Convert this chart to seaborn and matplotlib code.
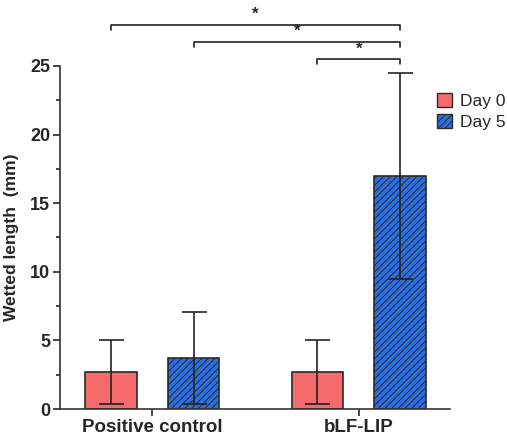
import numpy as np
import pandas as pd
import matplotlib
matplotlib.use('Agg')
import matplotlib.pyplot as plt
import seaborn as sns
from matplotlib.ticker import MultipleLocator
from matplotlib.patches import Patch

# data
groups = ['Positive control', 'bLF-LIP']
days = ['Day 0', 'Day 5']
day0_mean = [2.7, 2.7]
day5_mean = [3.7, 17.0]
day0_err_low = [2.3, 2.3]
day0_err_high = [2.3, 2.3]
day5_err_low = [3.3, 7.5]
day5_err_high = [3.4, 7.5]

# significance brackets: (group, day) -> (group, day), bracket height
comparisons = [
    (('Positive control', 'Day 0'), ('bLF-LIP', 'Day 5'), 28.0),
    (('Positive control', 'Day 5'), ('bLF-LIP', 'Day 5'), 26.75),
    (('bLF-LIP', 'Day 0'), ('bLF-LIP', 'Day 5'), 25.5),
]

df = pd.DataFrame({
    'group': groups * 2,
    'day': [days[0]] * 2 + [days[1]] * 2,
    'value': day0_mean + day5_mean,
})

palette = {'Day 0': '#F56B6B', 'Day 5': '#2C6FE2'}

sns.set_style('ticks')
plt.rcParams['font.family'] = ['Liberation Sans', 'DejaVu Sans']
plt.rcParams['hatch.color'] = '#1A4BA6'
plt.rcParams['hatch.linewidth'] = 0.7

fig = plt.figure(figsize=(5.07, 4.36), dpi=100)
ax = fig.add_axes([60 / 507, 27 / 436, 390 / 507, 343 / 436])

sns.barplot(data=df, x='group', y='value', hue='day', order=groups, hue_order=days,
            palette=palette, saturation=1, errorbar=None, gap=0.38, edgecolor='#2a2a2a',
            linewidth=1.2, legend=False, ax=ax)

# bars come out as hue blocks: day0 bars, then day5 bars
bars = ax.patches
centers = {}
means = day0_mean + day5_mean
lows = day0_err_low + day5_err_low
highs = day0_err_high + day5_err_high
keys = [(g, d) for d in days for g in groups]
for i, (bar, key) in enumerate(zip(bars, keys)):
    cx = bar.get_x() + bar.get_width() / 2
    centers[key] = cx
    if key[1] == 'Day 5':
        bar.set_hatch('/////')
    ax.errorbar(cx, means[i], yerr=[[lows[i]], [highs[i]]], fmt='none',
                ecolor='#222222', elinewidth=1.2, capsize=9, capthick=1.2,
                zorder=5, clip_on=False)

for (a, b, yy) in comparisons:
    x1, x2 = centers[a], centers[b]
    h = 0.35
    ax.plot([x1, x1, x2, x2], [yy - h, yy, yy, yy - h], color='#222222', lw=1.2,
            clip_on=False)
    ax.text((x1 + x2) / 2, yy + 0.2, '*', ha='center', va='bottom',
            fontsize=12, fontweight='bold', clip_on=False)

ax.set_xlim(-0.447, 1.442)
ax.set_ylim(0, 25)
ax.yaxis.set_major_locator(MultipleLocator(5))
ax.yaxis.set_minor_locator(MultipleLocator(2.5))
ax.tick_params(axis='y', which='major', length=5, width=1.2, labelsize=13, pad=2)
ax.tick_params(axis='y', which='minor', length=3, width=1.2)
ax.tick_params(axis='x', length=5, width=1.2, labelsize=13.5, pad=2)
for lab in ax.get_xticklabels() + ax.get_yticklabels():
    lab.set_fontweight('bold')
ax.set_xlabel('')
ax.set_ylabel('Wetted length  (mm)', fontsize=12.5, fontweight='bold', labelpad=8)
for s in ['top', 'right']:
    ax.spines[s].set_visible(False)
for s in ['left', 'bottom']:
    ax.spines[s].set_linewidth(1.2)
    ax.spines[s].set_color('#333333')

handles = [Patch(facecolor=palette['Day 0'], edgecolor='#2a2a2a', label='Day 0'),
           Patch(facecolor=palette['Day 5'], edgecolor='#2a2a2a', hatch='/////', label='Day 5')]
fig.legend(handles=handles, loc='upper left', bbox_to_anchor=(430 / 507, 1 - 86 / 436),
           frameon=False, fontsize=12.5, handlelength=0.85, handleheight=0.85,
           handletextpad=0.5, labelspacing=0.3, borderaxespad=0)

fig.savefig('out.png', dpi=100)
